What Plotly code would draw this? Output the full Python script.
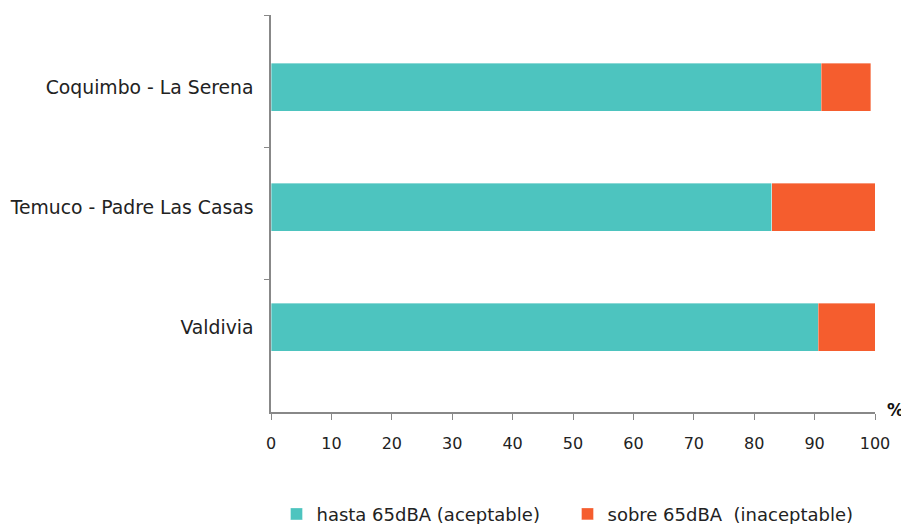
import plotly.graph_objects as go

categories = ["Valdivia", "Temuco - Padre Las Casas", "Coquimbo - La Serena"]
aceptable = [90.6, 82.9, 91.1]
inaceptable = [9.4, 17.1, 8.2]
x_ticks = [0, 10, 20, 30, 40, 50, 60, 70, 80, 90, 100]
series_names = ["hasta 65dBA\u00a0(aceptable)", "sobre 65dBA\u00a0\u00a0(inaceptable)"]

teal = "#4DC4BF"
orange = "#F55D2E"
font_family = "DejaVu Sans, Noto Sans, sans-serif"

idx = list(range(len(categories)))

fig = go.Figure()
fig.add_trace(go.Bar(
    y=idx, x=aceptable, orientation="h", name=series_names[0],
    marker=dict(color=teal, line=dict(color="rgba(255,255,255,0.6)", width=0.6)),
    width=0.4,
))
fig.add_trace(go.Bar(
    y=idx, x=inaceptable, orientation="h", name=series_names[1],
    marker=dict(color=orange, line=dict(color="rgba(255,255,255,0.6)", width=0.6)),
    width=0.4,
))
fig.add_trace(go.Scatter(x=[None], y=[None], yaxis="y2", showlegend=False, hoverinfo="skip"))

yrange = [-0.708, 2.6]
fig.update_layout(
    width=901, height=516,
    barmode="stack",
    plot_bgcolor="white", paper_bgcolor="white",
    margin=dict(l=263, r=34, t=7, b=112, autoexpand=False),
    font=dict(family=font_family, size=16, color="#222"),
    xaxis=dict(
        range=[0, 100], tickvals=x_ticks, ticks="outside", ticklen=6,
        tickcolor="#888", showline=True, linecolor="#888", linewidth=1.5,
        showgrid=False, zeroline=False, tickfont=dict(size=16, color="#222"),
        ticklabelstandoff=10, automargin=False,
    ),
    yaxis=dict(
        range=yrange, tickvals=idx, ticktext=categories, ticks="",
        showline=True, linecolor="#888", linewidth=1.5, showgrid=False,
        zeroline=False, tickfont=dict(size=18.8, color="#222"), ticklabelstandoff=12,
        automargin=False,
    ),
    yaxis2=dict(
        range=yrange, overlaying="y", side="left", tickvals=[0.392, 1.5, 2.6],
        ticks="outside", ticklen=6, tickcolor="#888", showticklabels=False,
        showgrid=False, zeroline=False, showline=False, automargin=False,
    ),
    legend=dict(
        orientation="h", x=0.298, xref="container", xanchor="left",
        y=0.019, yref="container", yanchor="middle",
        font=dict(size=18, color="#222"), traceorder="normal",
        entrywidth=246, entrywidthmode="pixels",
    ),
    showlegend=True,
)
fig.add_annotation(
    text="<b>%</b>", x=1.0, xref="paper", y=0, yref="paper",
    xanchor="center", yanchor="middle", xshift=20, yshift=2, showarrow=False,
    font=dict(size=17, color="#111"),
)
fig.write_html("out.html")
